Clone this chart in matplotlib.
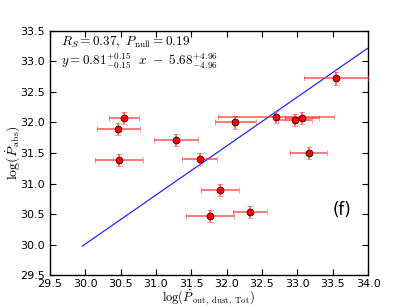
import matplotlib
matplotlib.use('Agg')
import matplotlib.pyplot as plt
import numpy as np

# data
x_vals = [30.47, 30.55, 31.28, 32.12, 32.70, 32.96, 33.07, 33.55,
          30.48, 31.62, 33.16, 31.91, 31.77, 32.33]
y_vals = [31.89, 32.07, 31.71, 32.00, 32.09, 32.04, 32.07, 32.72,
          31.39, 31.40, 31.50, 30.89, 30.47, 30.53]
x_errs = [0.30, 0.21, 0.31, 0.29, 0.82, 0.24, 0.24, 0.45,
          0.34, 0.25, 0.26, 0.27, 0.34, 0.235]
y_errs = [0.10] * 14

fit_x = [29.96, 33.99]
fit_y = [29.98, 33.21]

plt.rcParams['mathtext.fontset'] = 'cm'
plt.rcParams['font.family'] = 'DejaVu Sans'

fig = plt.figure(figsize=(4.09, 3.07), dpi=100)
ax = fig.add_axes([0.122, 0.103, 0.778, 0.797])

ax.plot(fit_x, fit_y, color='blue', lw=0.9, alpha=0.85)
ax.errorbar(x_vals, y_vals, xerr=x_errs, yerr=y_errs, fmt='o', color='red',
            ecolor=(1, 0.2, 0.2, 0.7), elinewidth=1.3, capsize=2, capthick=1,
            ms=5, mec='black', mew=0.5, zorder=3)

ax.set_xlim(29.5, 34.0)
ax.set_ylim(29.5, 33.5)
ax.set_xticks(np.arange(29.5, 34.01, 0.5))
ax.set_yticks(np.arange(29.5, 33.51, 0.5))
ax.tick_params(direction='in', top=True, right=True, labelsize=8, length=4)
ax.tick_params(axis='x', pad=2.5)
for s in ax.spines.values():
    s.set_linewidth(1.0)

ax.set_xlabel(r'$\log(\dot P_{\rm out,\ dust,\ Tot})$', fontsize=9)
ax.xaxis.set_label_coords(0.5, -0.05)
ax.set_ylabel(r'$\log(\dot P_{\rm abs})$', fontsize=10)
ax.yaxis.set_label_coords(-0.088, 0.5)

ax.text(0.035, 0.982, r'$R_S=0.37,\ P_{\rm null}=0.19$', transform=ax.transAxes,
        fontsize=9.5, va='top', ha='left')
ax.text(0.035, 0.918, r'$y=0.81^{+0.15}_{-0.15}\ \ x\ -\ 5.68^{+4.96}_{-4.96}$',
        transform=ax.transAxes, fontsize=9.5, va='top', ha='left')
ax.text(0.888, 0.245, '(f)', transform=ax.transAxes, fontsize=12)

plt.savefig('out.png', dpi=100)
